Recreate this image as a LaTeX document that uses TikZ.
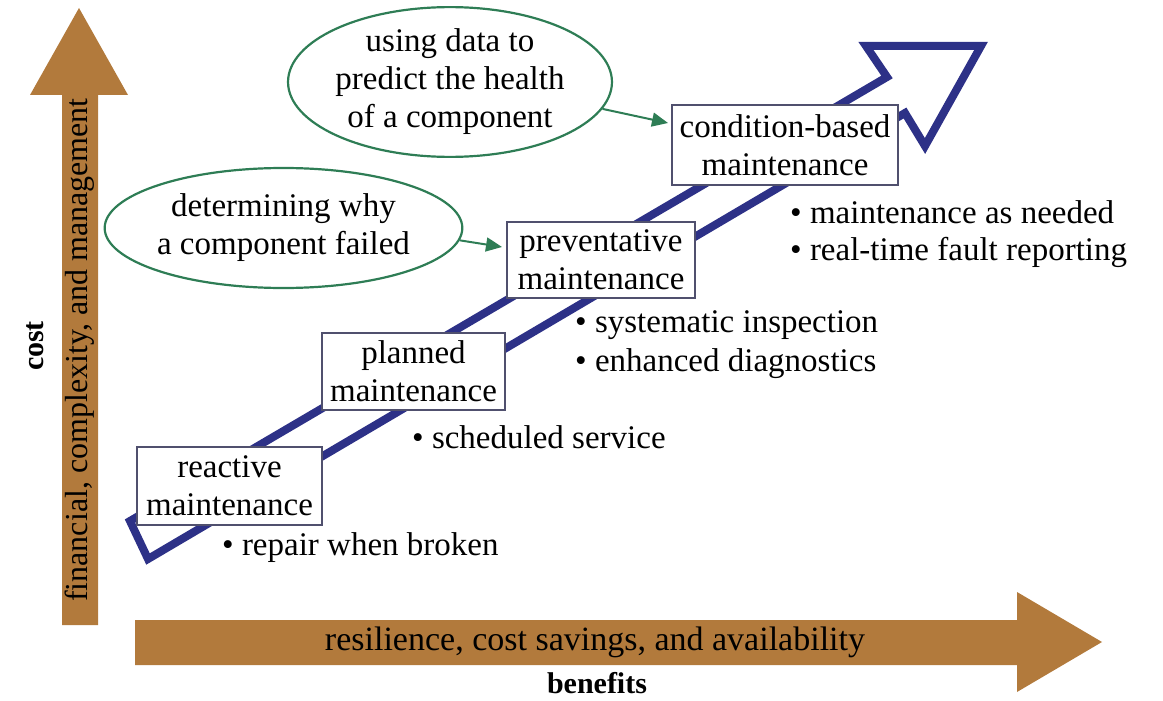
\documentclass[tikz,border=0pt]{standalone}
\usepackage{fontspec}
\setmainfont{Liberation Serif}
\usetikzlibrary{arrows.meta,shapes.geometric}
\definecolor{brownarrow}{RGB}{178,122,60}
\definecolor{navyline}{RGB}{45,49,135}
\definecolor{greenline}{RGB}{46,125,85}
\definecolor{boxline}{RGB}{80,80,110}
\tikzset{
  stagebox/.style={draw=boxline,fill=white,line width=1.3pt,inner sep=0pt,align=center,
    font=\fontsize{33}{38}\selectfont},
  bullettext/.style={anchor=west,inner sep=0pt,font=\fontsize{33}{38}\selectfont},
  noteellipse/.style={ellipse,draw=greenline,line width=2.2pt,inner sep=0pt,align=center,
    font=\fontsize{33}{38}\selectfont},
  notearrow/.style={draw=greenline,line width=2pt,-{Triangle[length=16pt,width=14pt]}},
  axistext/.style={inner sep=0pt,font=\fontsize{32}{38}\selectfont},
  axislabel/.style={inner sep=0pt,font=\fontsize{30}{36}\selectfont\bfseries}
}
\begin{document}
\begin{tikzpicture}[x=1pt,y=-1pt]
\useasboundingbox (0,0) rectangle (1163,701);
% brown axes
\fill[brownarrow] (62,625) -- (62,95) -- (30,95) -- (79,8) -- (128,95) -- (98,95) -- (98,625) -- cycle;
\fill[brownarrow] (135,620) -- (1017,620) -- (1017,592) -- (1102,642) -- (1017,692) -- (1017,665) -- (135,665) -- cycle;
\node[axistext,rotate=90] (ytext) at (80,350) {financial, complexity, and management};
\node[axislabel,rotate=90] (ylabel) at (35,346) {cost};
\node[axistext,font=\fontsize{34}{38}\selectfont] (xtext) at (595,642) {resilience, cost savings, and availability};
\node[axislabel] (xlabel) at (597,683) {benefits};
% hollow blue arrow
\draw[navyline,line width=8pt,line join=miter] (130,521) -- (148,559) -- (905,113) -- (925,146) -- (981,46) -- (866,46) -- (887,77) -- cycle;
% stage boxes
\node[stagebox,minimum width=185pt,minimum height=78pt] (b1) at (229.5,486) {reactive\\maintenance};
\node[stagebox,minimum width=183pt,minimum height=77pt] (b2) at (413.5,371.5) {planned\\maintenance};
\node[stagebox,minimum width=188pt,minimum height=76pt] (b3) at (601,260) {preventative\\maintenance};
\node[stagebox,minimum width=226pt,minimum height=80pt] (b4) at (785,145) {condition-based\\maintenance};
% bullets
\node[bullettext] (t1) at (222,548) {• repair when broken};
\node[bullettext] (t2) at (412,437) {• scheduled service};
\node[bullettext] (t3a) at (575,325) {• systematic inspection};
\node[bullettext] (t3b) at (575,364) {• enhanced diagnostics};
\node[bullettext] (t4a) at (790,212) {• maintenance as needed};
\node[bullettext] (t4b) at (790,252) {• real-time fault reporting};
% ellipses
\node[noteellipse,minimum width=310pt,minimum height=140pt] (e1) at (450,82) {using data to\\predict the health\\of a component};
\node[noteellipse,minimum width=323pt,minimum height=120pt] (e2) at (283.5,228) {determining why\\a component failed};
% note arrows
\coordinate (a1) at (668,123);
\coordinate (a2) at (502,247);
\draw[notearrow] (e1.-10) -- (a1);
\draw[notearrow] (e2.-4) -- (a2);
\end{tikzpicture}
\end{document}
